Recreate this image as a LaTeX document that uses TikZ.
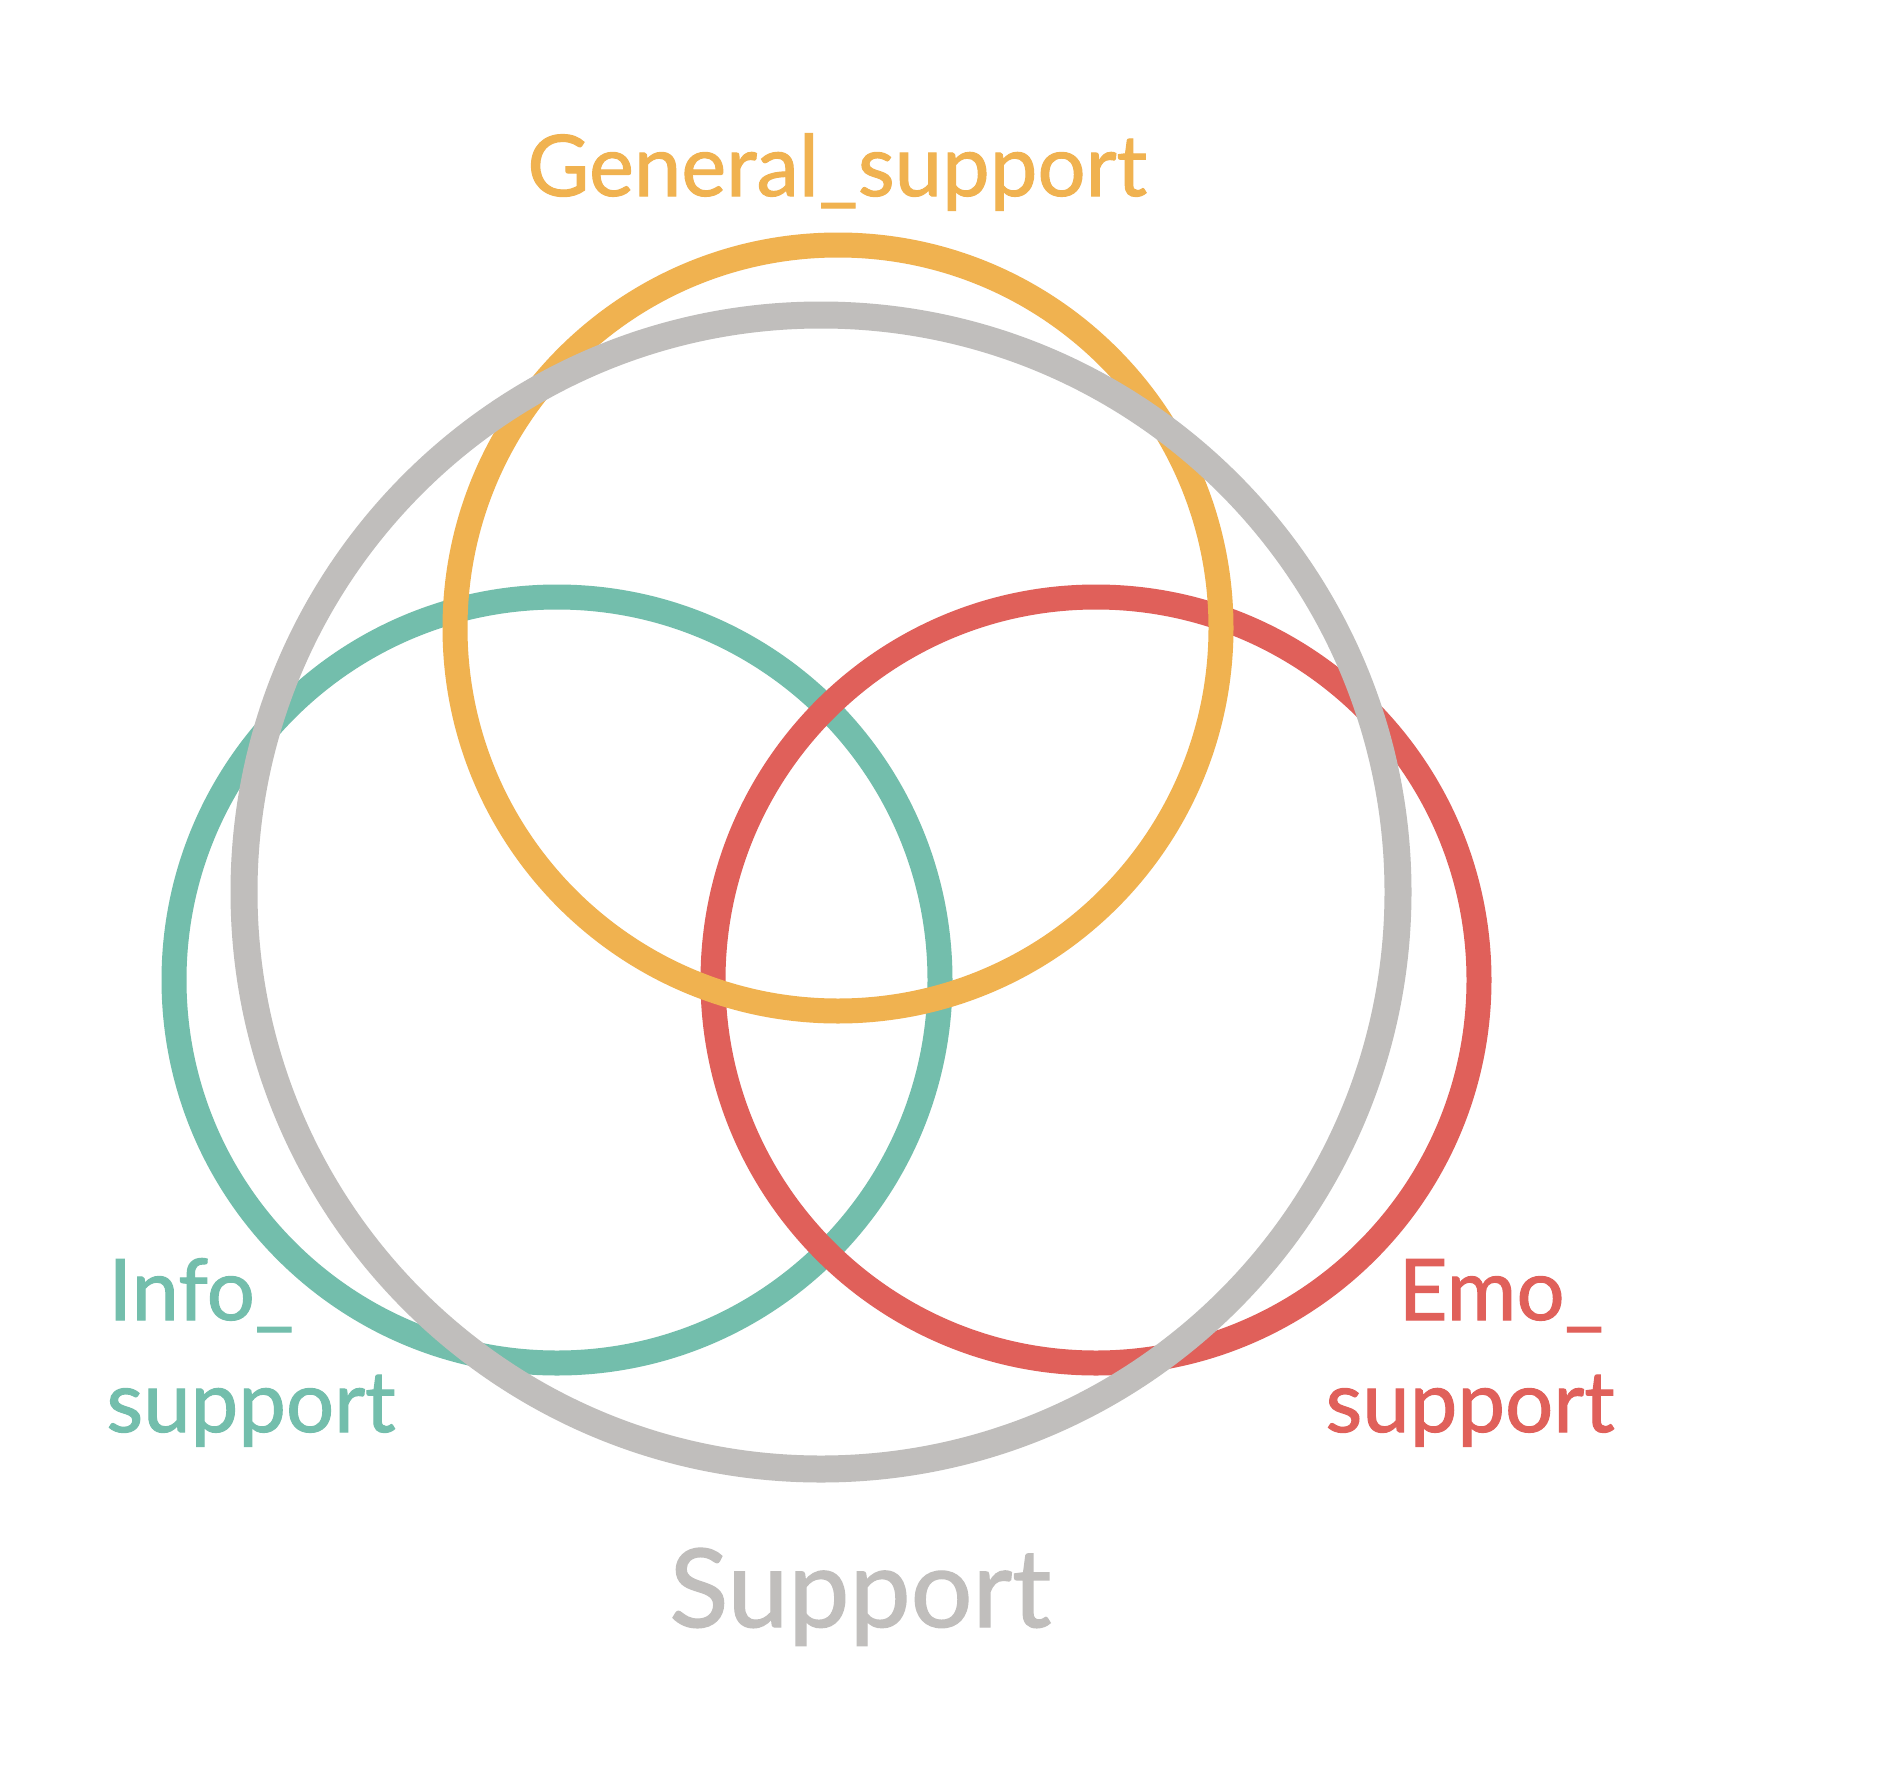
\documentclass[tikz,border=0pt]{standalone}
\usepackage{fontspec}
\setmainfont{Lato}
\newfontfamily\lblfont{Lato}[FakeBold=1.2]
\definecolor{cOrange}{RGB}{240,178,80}
\definecolor{cTeal}{RGB}{115,190,172}
\definecolor{cRed}{RGB}{224,96,90}
\definecolor{cGray}{RGB}{192,190,188}
\begin{document}
\begin{tikzpicture}[x=0.5pt,y=-0.5pt,
  ring/.style={line width=12.5pt},
  lbl/.style={inner sep=0pt,font=\lblfont\fontsize{42.5pt}{50pt}\selectfont},
  big/.style={inner sep=0pt,font=\lblfont\fontsize{54.5pt}{60pt}\selectfont}]
\useasboundingbox (0,0) rectangle (1890,1766);
\fill[white] (0,0) rectangle (1890,1766);
\draw[ring,cTeal] (557,980) circle[radius=383];
\draw[ring,cRed] (1096,980) circle[radius=383];
\draw[ring,cOrange] (838,628) circle[radius=383];
\draw[ring,cGray,line width=13.5pt] (821,892) circle[radius=577];
\node[lbl,text=cOrange,anchor=base west] (gen) at (527,196) {General\_support};
\node[lbl,text=cTeal,anchor=base west] (info1) at (108,1320) {Info\_};
\node[lbl,text=cTeal,anchor=base west] (info2) at (106,1432) {support};
\node[lbl,text=cRed,anchor=base east] (emo1) at (1604,1320) {Emo\_};
\node[lbl,text=cRed,anchor=base east] (emo2) at (1615,1432) {support};
\node[big,text=cGray,anchor=base west] (sup) at (669,1627) {Support};
\end{tikzpicture}
\end{document}
